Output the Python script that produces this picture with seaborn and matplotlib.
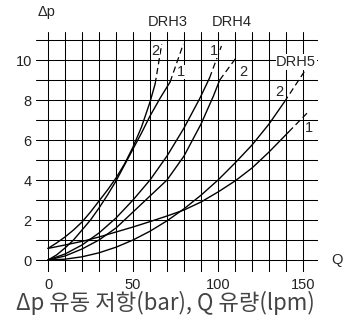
import numpy as np
import pandas as pd
import matplotlib.pyplot as plt
import seaborn as sns

sns.set_style('white')
plt.rcParams['font.family'] = ['Liberation Sans', 'DejaVu Sans']

# curves: solid part, then dashed extension
drh3_2_q = [0, 5, 10, 15, 20, 25, 30, 35, 40, 45, 50, 55, 60, 63]
drh3_2_dp = [0.58, 0.85, 1.15, 1.5, 1.9, 2.4, 2.95, 3.5, 4.1, 4.8, 5.65, 6.65, 7.9, 8.8]
drh3_2_q_ext = [63, 66.9]
drh3_2_dp_ext = [8.8, 10.8]

drh3_1_q = [0, 5, 10, 15, 20, 25, 30, 35, 40, 45, 50, 55, 60, 66, 71.8]
drh3_1_dp = [0, 0.25, 0.6, 1.0, 1.5, 2.0, 2.6, 3.25, 3.95, 4.75, 5.55, 6.35, 7.2, 8.1, 8.9]
drh3_1_q_ext = [71.8, 79.6]
drh3_1_dp_ext = [8.9, 10.8]

drh4_1_q = [0, 10, 20, 30, 40, 50, 60, 70, 80, 89.4, 95]
drh4_1_dp = [0, 0.3, 0.75, 1.35, 2.1, 3.0, 4.0, 5.2, 6.6, 8.1, 9.1]
drh4_1_q_ext = [95, 102]
drh4_1_dp_ext = [9.1, 10.7]

drh4_2_q = [0, 10, 20, 30, 40, 50, 60, 70, 80, 90, 97.3, 101]
drh4_2_dp = [0, 0.2, 0.55, 1.0, 1.6, 2.4, 3.2, 4.0, 5.2, 6.8, 8.2, 9.0]
drh4_2_q_ext = [101, 111.4]
drh4_2_dp_ext = [9.0, 10.2]

drh5_1_q = [0, 10, 22, 30, 40, 50, 60, 70, 80, 90, 100, 110, 120, 130, 141.5]
drh5_1_dp = [0.58, 0.75, 0.97, 1.15, 1.4, 1.65, 1.92, 2.2, 2.5, 2.9, 3.4, 3.95, 4.6, 5.4, 6.4]
drh5_1_q_ext = [141.5, 153]
drh5_1_dp_ext = [6.4, 7.4]

drh5_2_q = [0, 10, 20, 30, 40, 50, 60, 70, 80, 90, 100, 110, 120, 130, 139]
drh5_2_dp = [0, 0.04, 0.16, 0.36, 0.64, 1.0, 1.44, 1.96, 2.56, 3.24, 4.0, 4.85, 5.75, 6.8, 7.9]
drh5_2_q_ext = [139, 151]
drh5_2_dp_ext = [7.9, 9.45]

curves = [
    (drh3_2_q, drh3_2_dp, drh3_2_q_ext, drh3_2_dp_ext),
    (drh3_1_q, drh3_1_dp, drh3_1_q_ext, drh3_1_dp_ext),
    (drh4_1_q, drh4_1_dp, drh4_1_q_ext, drh4_1_dp_ext),
    (drh4_2_q, drh4_2_dp, drh4_2_q_ext, drh4_2_dp_ext),
    (drh5_1_q, drh5_1_dp, drh5_1_q_ext, drh5_1_dp_ext),
    (drh5_2_q, drh5_2_dp, drh5_2_q_ext, drh5_2_dp_ext),
]

x_ticks = list(range(0, 151, 10))
y_ticks = list(range(0, 12))

fig = plt.figure(figsize=(3.48, 3.25), dpi=100)
ax = fig.add_axes([36 / 348, 53 / 325, 282 / 348, 240 / 325])

for q, dp, q_ext, dp_ext in curves:
    sns.lineplot(x=q, y=dp, ax=ax, color='black', lw=1.0, sort=False, estimator=None)
    sns.lineplot(x=q_ext, y=dp_ext, ax=ax, color='black', lw=0.9, sort=False,
                 estimator=None, linestyle=(0, (5, 3)))

ax.set_xlim(-7.06, 158.8)
ax.set_ylim(-0.6, 11.4)
ax.set_xticks(x_ticks)
ax.set_xticklabels([str(t) if t % 50 == 0 else '' for t in x_ticks])
ax.set_yticks(y_ticks)
ax.set_yticklabels([str(t) if t % 2 == 0 else '' for t in y_ticks])
ax.grid(True, color='black', lw=0.75)
ax.set_axisbelow(True)
ax.tick_params(length=0, labelsize=10.5, colors='#222222')
ax.tick_params(axis='x', pad=4)
ax.tick_params(axis='y', pad=3)
for s in ax.spines.values():
    s.set_visible(False)

# curve names and numbers
ax.text(70.6, 11.9, 'DRH3', ha='center', va='center', fontsize=10.5, clip_on=False)
ax.text(108, 11.9, 'DRH4', ha='center', va='center', fontsize=10.5, clip_on=False)
ax.text(146, 9.9, 'DRH5', ha='center', va='center', fontsize=10.5,
        bbox=dict(facecolor='white', edgecolor='none', pad=0.5))
for tx, ty, s in [(63, 10.45, '2'), (78, 9.4, '1'), (97.4, 10.45, '1'),
                  (115, 9.4, '2'), (136, 8.4, '2'), (153.5, 6.6, '1')]:
    ax.text(tx, ty, s, ha='center', va='center', fontsize=10.5,
            bbox=dict(facecolor='white', edgecolor='none', pad=0.3))

ax.text(-6, 12.4, 'Δp', ha='left', va='center', fontsize=10.5, clip_on=False)
ax.text(170, 0, 'Q', ha='center', va='center', fontsize=10.5, clip_on=False)

fig.text(165 / 348, 1 - 303 / 325, 'Δp 유동 저항(bar), Q 유량(lpm)', ha='center', va='center',
         fontsize=16, color='#444444', family=['Noto Sans CJK KR', 'DejaVu Sans'])

plt.savefig('out.png', dpi=100)
plt.close()
